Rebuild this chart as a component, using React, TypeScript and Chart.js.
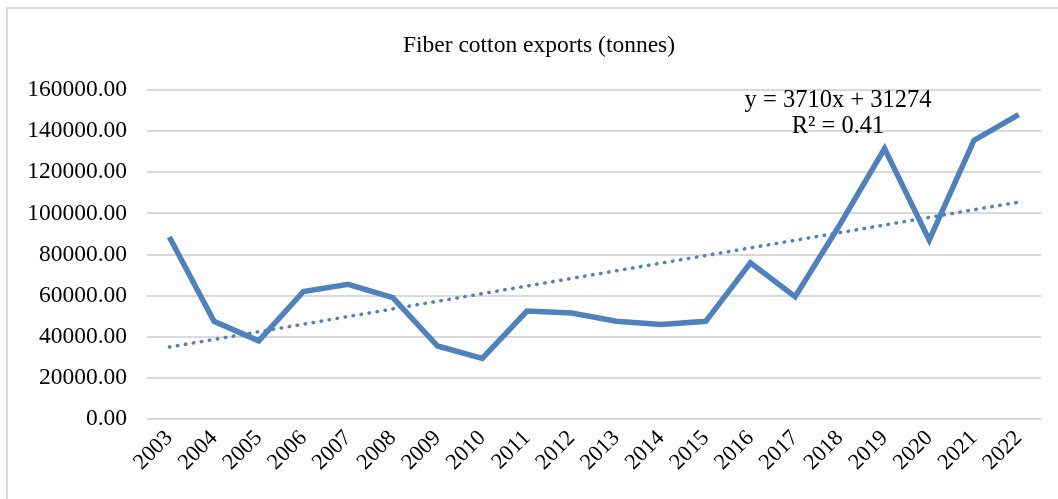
import React, { useEffect, useRef } from "react";
import { Chart, registerables } from "chart.js";

Chart.register(...registerables);

const years = ["2003","2004","2005","2006","2007","2008","2009","2010","2011","2012","2013","2014","2015","2016","2017","2018","2019","2020","2021","2022"];
const exportsTonnes = [88500, 47500, 38000, 62000, 65500, 59000, 35500, 29500, 52500, 51500, 47500, 46000, 47500, 76000, 59500, 94500, 131500, 87000, 135500, 148000];
const trendStartEnd = [34984, 105474];
const yTicks = [0, 20000, 40000, 60000, 80000, 100000, 120000, 140000, 160000];
const titleText = "Fiber cotton exports (tonnes)";
const equationLines = ["y = 3710x + 31274", "R² = 0.41"];

const FONT = "'Liberation Serif', 'Times New Roman', serif";
const BLUE = "#4F81BD";

export default function App() {
  const ref = useRef<HTMLCanvasElement | null>(null);

  useEffect(() => {
    if (!ref.current) return;
    const textPlugin = {
      id: "textPlugin",
      afterDraw(chart: any) {
        const ctx = chart.ctx;
        ctx.save();
        ctx.fillStyle = "#000";
        ctx.textAlign = "center";
        ctx.textBaseline = "middle";
        ctx.font = `23.5px ${FONT}`;
        ctx.fillText(titleText, 539, 46);
        ctx.font = `24.5px ${FONT}`;
        ctx.fillText(equationLines[0], 838, 101);
        ctx.fillText(equationLines[1], 838, 127);
        ctx.restore();
      },
    };
    const chart = new Chart(ref.current, {
      type: "line",
      data: {
        labels: years,
        datasets: [
          {
            label: "Linear trend",
            data: [
              { x: years[0], y: trendStartEnd[0] },
              { x: years[years.length - 1], y: trendStartEnd[1] },
            ] as any,
            borderColor: BLUE,
            borderWidth: 3.5,
            borderDash: [0.5, 7.6],
            borderCapStyle: "round",
            pointRadius: 0,
            tension: 0,
            order: 0,
          },
          {
            label: "Fiber cotton exports",
            data: exportsTonnes,
            borderColor: BLUE,
            borderWidth: 5.5,
            pointRadius: 0,
            tension: 0,
            order: 1,
          },
        ],
      },
      options: {
        animation: false,
        responsive: false,
        layout: { padding: { left: 0, right: 17, top: 90, bottom: 0 } },
        plugins: {
          legend: { display: false },
          title: { display: false },
          tooltip: { enabled: false },
        },
        scales: {
          x: {
            type: "category",
            offset: true,
            grid: { display: false, drawTicks: false },
            border: { display: false },
            ticks: {
              maxRotation: 45,
              minRotation: 45,
              padding: 6,
              color: "#000",
              font: { family: FONT, size: 22.5 },
              autoSkip: false,
            },
            afterFit: (scale: any) => {
              scale.height = 80;
            },
          },
          y: {
            min: 0,
            max: 160000,
            afterBuildTicks: (scale: any) => {
              scale.ticks = yTicks.map((v) => ({ value: v }));
            },
            grid: { color: "#d9d9d9", lineWidth: 2, drawTicks: false },
            border: { display: false },
            ticks: {
              padding: 20,
              color: "#000",
              font: { family: FONT, size: 23.5 },
              callback: (v: any) => Number(v).toFixed(2),
            },
            afterFit: (scale: any) => {
              scale.width = 147;
            },
          },
        },
      },
      plugins: [textPlugin],
    });
    return () => chart.destroy();
  }, []);

  return (
    <div style={{ position: "fixed", left: 0, top: 0, width: 1058, height: 499, background: "#fff", overflow: "hidden" }}>
      <canvas ref={ref} width={1058} height={499} style={{ position: "absolute", left: 0, top: 0, width: 1058, height: 499 }} />
      <div style={{ position: "absolute", left: 6, top: 7, width: 1200, height: 700, border: "2px solid #d9d9d9", pointerEvents: "none" }} />
    </div>
  );
}
